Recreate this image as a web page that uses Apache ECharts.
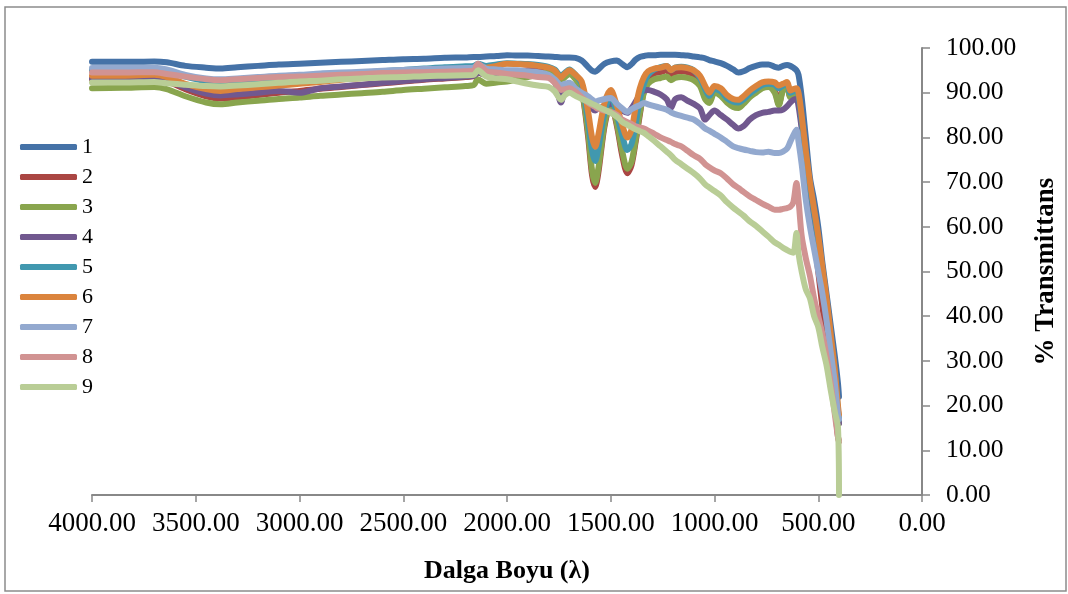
<!DOCTYPE html>
<html>
<head>
<meta charset="utf-8">
<script src="https://cdn.jsdelivr.net/npm/echarts@6/dist/echarts.min.js"></script>
<style>
html,body{margin:0;padding:0;background:#fff;}
#chart{width:1068px;height:594px;}
</style>
</head>
<body>
<div id="chart"></div>
<script>
// Wavenumbers (cm-1), shared x positions for every series
const wavenumbers = [4000, 3850, 3700, 3640, 3550, 3450, 3380, 3300, 3200, 3100,
  3000, 2900, 2800, 2700, 2600, 2500, 2400, 2300, 2200, 2160,
  2140, 2100, 2050, 2000, 1950, 1900, 1850, 1800, 1770, 1740,
  1720, 1700, 1670, 1640, 1610, 1590, 1575, 1560, 1530, 1500,
  1470, 1445, 1420, 1400, 1380, 1360, 1340, 1320, 1290, 1260,
  1230, 1210, 1190, 1160, 1130, 1100, 1070, 1045, 1025, 1000,
  970, 940, 910, 885, 860, 830, 800, 770, 740, 710,
  690, 670, 650, 635, 620, 605, 595, 580, 560, 540,
  520, 500, 480, 460, 440, 420, 405, 400];

const seriesNames = ['1','2','3','4','5','6','7','8','9'];

const s1 = [96.9, 96.9, 97.0, 96.8, 96.0, 95.6, 95.4, 95.7, 96.0, 96.3,
  96.5, 96.7, 96.9, 97.1, 97.3, 97.5, 97.6, 97.8, 97.9, 98.0,
  98.0, 98.1, 98.2, 98.4, 98.3, 98.3, 98.2, 98.1, 98.0, 97.9,
  97.9, 97.9, 97.8, 97.2, 95.8, 94.9, 94.7, 95.2, 96.5, 97.0,
  97.2, 96.4, 95.7, 96.4, 97.4, 98.0, 98.2, 98.4, 98.4, 98.5,
  98.5, 98.5, 98.5, 98.4, 98.3, 98.1, 97.9, 97.7, 97.3, 97.0,
  96.6, 96.0, 95.2, 94.5, 94.8, 95.5, 96.0, 96.3, 96.3, 95.8,
  95.6, 96.0, 96.2, 96.0, 95.6, 95.0, 94.0, 89.0, 80.0, 71.0,
  66.0, 60.0, 52.0, 45.0, 38.0, 31.0, 25.0, 22.0];

const s2 = [93.0, 93.0, 93.2, 92.6, 90.8, 89.2, 88.7, 89.0, 89.5, 90.0,
  90.4, 90.9, 91.3, 91.7, 92.1, 92.5, 92.9, 93.2, 93.5, 93.7,
  94.5, 94.0, 94.3, 94.6, 94.8, 95.0, 95.0, 95.0, 94.6, 93.0,
  93.8, 94.5, 93.2, 90.5, 80.5, 71.5, 68.9, 72.0, 82.5, 87.5,
  82.5, 76.0, 72.0, 73.8, 79.0, 85.0, 90.5, 93.0, 94.3, 94.6,
  95.0, 94.0, 94.6, 94.8, 94.6, 94.0, 92.7, 90.0, 88.6, 90.2,
  89.6, 88.1, 87.2, 87.0, 87.8, 89.2, 90.3, 91.2, 91.5, 90.5,
  87.5, 90.8, 91.4, 89.2, 89.8, 90.2, 89.0, 83.0, 74.0, 66.0,
  58.0, 50.0, 42.0, 35.0, 28.0, 20.0, 13.0, 12.0];

const s3 = [91.0, 91.1, 91.3, 90.8, 89.2, 87.8, 87.4, 87.8, 88.2, 88.6,
  88.9, 89.3, 89.6, 89.9, 90.2, 90.6, 90.9, 91.2, 91.5, 91.7,
  93.0, 92.0, 92.3, 92.5, 93.0, 93.5, 94.0, 94.5, 94.2, 92.8,
  93.5, 94.2, 93.0, 90.5, 81.5, 72.5, 69.8, 73.0, 83.0, 88.0,
  83.0, 77.0, 73.0, 74.5, 79.5, 85.5, 90.0, 92.0, 93.0, 93.3,
  93.6, 92.8, 93.3, 93.5, 93.3, 92.8, 91.5, 88.5, 87.7, 90.0,
  89.3, 87.8, 86.8, 86.6, 87.5, 89.0, 90.0, 91.0, 91.3, 90.0,
  87.2, 90.5, 91.2, 89.0, 89.6, 90.0, 89.0, 83.5, 75.0, 68.0,
  62.0, 56.0, 49.0, 42.0, 34.0, 26.0, 18.0, 16.0];

const s4 = [93.2, 93.2, 93.4, 92.8, 91.2, 89.8, 89.4, 89.6, 90.0, 90.4,
  90.0, 91.0, 91.4, 91.8, 92.2, 92.6, 93.0, 93.3, 93.6, 93.8,
  94.5, 94.0, 94.2, 94.4, 94.5, 94.4, 94.2, 93.8, 92.5, 87.8,
  91.0, 92.0, 91.0, 89.5, 88.0, 86.5, 86.0, 86.5, 87.0, 87.5,
  87.0, 86.0, 85.5, 86.5, 88.0, 89.5, 90.5, 90.6, 90.2, 89.6,
  88.5, 86.6, 88.5, 89.0, 88.2, 87.5, 86.5, 84.0, 85.0, 86.0,
  85.0, 84.0, 82.8, 82.0, 82.5, 84.0, 85.0, 85.5, 85.7, 86.0,
  86.0, 86.2, 87.0, 87.8, 88.4, 88.6, 87.0, 82.0, 75.0, 68.0,
  62.0, 56.0, 49.0, 42.0, 34.0, 26.0, 18.0, 16.0];

const s5 = [95.0, 95.0, 95.2, 94.8, 93.6, 92.6, 92.3, 92.6, 93.0, 93.3,
  93.6, 93.9, 94.2, 94.5, 94.8, 95.1, 95.4, 95.7, 95.9, 96.0,
  96.5, 96.0, 96.3, 96.6, 96.5, 96.4, 96.2, 95.8, 95.2, 93.8,
  94.5, 95.2, 94.0, 92.0, 84.0, 77.0, 74.7, 77.5, 85.5, 89.5,
  85.0, 80.5, 77.2, 78.5, 83.0, 88.5, 92.0, 94.0, 95.2, 95.7,
  96.0, 95.0, 95.6, 95.8, 95.6, 95.0, 93.3, 90.8, 89.3, 90.8,
  90.3, 88.8, 88.0, 87.8, 88.5, 89.8, 90.8, 91.7, 92.0, 91.8,
  91.0, 91.6, 92.0, 90.0, 90.3, 90.5, 89.5, 84.0, 76.0, 69.0,
  63.0, 57.0, 50.0, 43.0, 35.0, 27.0, 19.0, 17.0];

const s6 = [93.8, 93.8, 94.0, 93.5, 92.0, 90.8, 90.4, 90.8, 91.2, 91.6,
  92.0, 92.4, 92.9, 93.3, 93.8, 94.3, 94.7, 95.0, 95.3, 95.5,
  96.0, 95.6, 96.0, 96.5, 96.4, 96.3, 96.0, 95.6, 95.0, 93.4,
  94.3, 95.0, 94.0, 92.5, 86.0, 80.0, 77.9, 80.5, 87.7, 90.6,
  87.0, 82.8, 80.0, 81.7, 86.8, 91.0, 93.5, 94.8, 95.4, 95.6,
  96.0, 95.0, 95.6, 95.7, 95.5, 95.0, 93.8, 91.5, 90.0, 91.5,
  91.0, 89.5, 88.6, 88.4, 89.2, 90.5, 91.5, 92.3, 92.5, 92.3,
  91.6, 92.0, 92.4, 90.5, 90.8, 91.0, 90.0, 85.0, 77.0, 70.0,
  64.0, 58.0, 51.0, 44.0, 36.0, 28.0, 20.0, 18.0];

const s7 = [95.5, 95.5, 95.6, 95.2, 94.0, 93.2, 93.0, 93.2, 93.5, 93.8,
  94.0, 94.3, 94.5, 94.7, 94.9, 95.1, 95.3, 95.4, 95.5, 95.6,
  96.3, 95.4, 95.2, 95.0, 95.0, 94.8, 94.6, 94.0, 93.0, 91.7,
  92.0, 92.2, 91.0, 90.0, 89.2, 88.5, 88.0, 88.2, 88.6, 88.8,
  87.5, 86.5, 85.7, 86.3, 86.8, 87.2, 87.7, 87.4, 87.0, 86.6,
  86.2, 85.6, 85.2, 84.8, 84.4, 84.0, 83.0, 82.0, 81.5, 80.8,
  80.0, 79.0, 78.0, 77.6, 77.3, 77.0, 76.7, 76.6, 76.8, 76.5,
  76.5, 76.8, 77.5, 79.0, 80.5, 81.7, 79.0, 74.0, 66.0, 60.0,
  55.0, 50.0, 45.0, 39.0, 32.0, 25.0, 18.0, 17.0];

const s8 = [94.5, 94.5, 94.6, 94.2, 93.6, 93.0, 92.8, 93.0, 93.3, 93.5,
  93.6, 93.8, 94.0, 94.2, 94.4, 94.5, 94.6, 94.7, 94.8, 95.0,
  96.5, 94.8, 94.5, 94.2, 94.0, 93.8, 93.5, 93.3, 92.2, 90.6,
  90.8, 91.0, 90.2, 89.0, 87.8, 87.2, 86.8, 86.4, 86.0, 85.7,
  85.0, 84.0, 83.4, 83.0, 82.5, 82.2, 82.0, 81.5, 80.8, 80.0,
  79.4, 79.0, 78.5, 78.0, 77.0, 76.0, 75.2, 74.0, 73.3, 72.6,
  72.0, 70.8, 69.5, 68.7, 67.8, 66.8, 66.0, 65.2, 64.5, 63.8,
  63.8, 64.0, 64.2, 64.5, 65.5, 69.8, 66.0, 58.0, 53.0, 49.0,
  44.0, 40.0, 36.0, 31.0, 25.0, 18.0, 13.0, 12.0];

const s9 = [92.3, 92.3, 92.4, 92.1, 91.8, 91.5, 91.4, 91.6, 91.9, 92.2,
  92.5, 92.7, 93.0, 93.2, 93.4, 93.5, 93.7, 93.8, 93.9, 94.0,
  95.0, 93.6, 93.2, 93.0, 92.5, 92.0, 91.6, 91.3, 90.3, 88.4,
  89.5, 90.0, 89.3, 88.6, 88.0, 87.5, 87.2, 86.8, 86.2, 85.5,
  84.6, 83.5, 82.8, 82.3, 81.8, 81.4, 81.0, 80.3, 79.2, 78.0,
  76.8, 76.0, 75.0, 74.0, 73.0, 72.0, 70.8, 69.5, 68.8, 68.0,
  67.0, 65.5, 64.3, 63.4, 62.5, 61.2, 60.2, 59.0, 57.8, 56.5,
  56.0, 55.3, 54.8, 54.4, 54.2, 58.6, 54.0, 50.0, 46.0, 44.0,
  40.0, 37.6, 33.0, 29.0, 23.5, 18.5, 15.2, 0.0];

const allValues = [s1, s2, s3, s4, s5, s6, s7, s8, s9];
const colors = ['#4572A7', '#AA4643', '#89A54E', '#71588F', '#4198AF', '#DB843D', '#93A9CF', '#D19392', '#B9CD96'];

const tickFmt = v => v.toFixed(2);
const font = 'Liberation Serif, Times New Roman, serif';

const chart = echarts.init(document.getElementById('chart'), null, {renderer: 'canvas'});
chart.setOption({
  animation: false,
  backgroundColor: '#fff',
  color: colors,
  grid: {left: 92, right: 144, top: 48, bottom: 99, containLabel: false},
  legend: {
    data: seriesNames,
    orient: 'vertical',
    left: 15,
    top: 131,
    itemWidth: 57,
    itemHeight: 6,
    itemGap: 8,
    icon: 'roundRect',
    textStyle: {fontFamily: font, fontSize: 22, color: '#000', lineHeight: 22}
  },
  xAxis: {
    type: 'value',
    inverse: true,
    min: 0, max: 4000, interval: 500,
    name: 'Dalga Boyu (λ)',
    nameLocation: 'middle',
    nameGap: 63,
    nameTextStyle: {fontFamily: font, fontSize: 26, fontWeight: 'bold', color: '#000'},
    axisLine: {show: true, onZero: false, lineStyle: {color: '#888', width: 2}},
    axisTick: {show: true, length: 7, lineStyle: {color: '#888', width: 1.5}},
    axisLabel: {formatter: tickFmt, fontFamily: font, fontSize: 27, color: '#000', margin: 15},
    splitLine: {show: false}
  },
  yAxis: {
    type: 'value',
    position: 'right',
    min: 0, max: 100, interval: 10,
    name: '% Transmittans',
    nameLocation: 'middle',
    nameRotate: 90,
    nameGap: 111,
    nameTextStyle: {fontFamily: font, fontSize: 27, fontWeight: 'bold', color: '#000'},
    axisLine: {show: true, onZero: false, lineStyle: {color: '#888', width: 2}},
    axisTick: {show: true, length: 8, lineStyle: {color: '#888', width: 1.5}},
    axisLabel: {formatter: tickFmt, fontFamily: font, fontSize: 25.5, color: '#000', margin: 24},
    splitLine: {show: false}
  },
  graphic: [{
    type: 'rect', silent: true, z: -10,
    shape: {x: 5, y: 7, width: 1061, height: 584},
    style: {fill: 'none', stroke: '#8c8c8c', lineWidth: 1.5}
  }],
  series: allValues.map((vals, i) => ({
    name: seriesNames[i],
    type: 'line',
    symbol: 'none',
    smooth: 0.3,
    lineStyle: {width: 6, color: colors[i], cap: 'round', join: 'round'},
    itemStyle: {color: colors[i]},
    data: wavenumbers.map((w, j) => [w, vals[j]])
  }))
});
</script>
</body>
</html>
